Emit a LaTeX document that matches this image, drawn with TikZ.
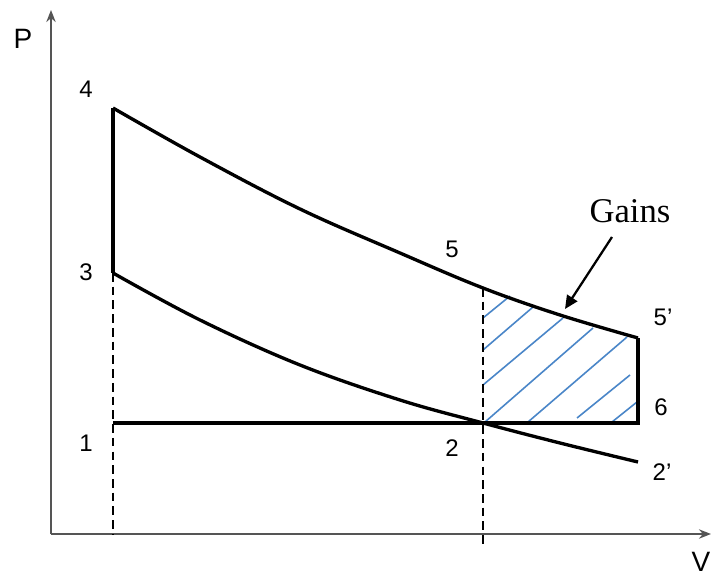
\documentclass[tikz,border=0pt]{standalone}
\usepackage{fontspec}
\setmainfont{Liberation Sans}
\newfontfamily\gainsfont{Liberation Serif}
\usetikzlibrary{arrows.meta}
\definecolor{hatchblue}{RGB}{74,134,200}
\definecolor{axisgray}{RGB}{85,85,85}
\begin{document}
\begin{tikzpicture}[x=0.75pt,y=-0.75pt,
  curve/.style={line width=2.5pt,black,line join=miter},
  axisline/.style={line width=1.5pt,axisgray,-{Stealth[length=9pt,width=7pt]}},
  guide/.style={line width=2pt,black,dash pattern=on 6.5pt off 3.8pt},
  hatchline/.style={line width=1.2pt,hatchblue},
  lbl/.style={font=\fontsize{18}{21}\selectfont,inner sep=0pt},
  pointer/.style={line width=1.7pt,black,-{Triangle[length=10pt,width=9pt]}}]
\useasboundingbox (0,0) rectangle (712,573);
% key points
\coordinate (O) at (51,534);
\coordinate (ytip) at (51,10);
\coordinate (xtip) at (711,534);
\coordinate (p4) at (113,108);
\coordinate (p3) at (113,273);
\coordinate (p1) at (113,423);
\coordinate (p1b) at (113,534);
\coordinate (p5) at (483,288);
\coordinate (p2) at (483,423);
\coordinate (p2b) at (483,546);
\coordinate (p5p) at (638,338);
\coordinate (p6) at (638,423);
\coordinate (p2p) at (638,462);
% axes
\draw[axisline] (O) -- (ytip);
\draw[axisline] (O) -- (xtip);
% hatch
\draw[hatchline] (483,318) -- (510,296);
\draw[hatchline] (483,350) -- (533,307);
\draw[hatchline] (483,385) -- (563,318);
\draw[hatchline] (485,422) -- (593,328);
\draw[hatchline] (528,422) -- (627,337);
\draw[hatchline] (577,418) -- (630,375);
\draw[hatchline] (612,422) -- (637,402);
% guides
\draw[guide] (p3) -- (p1b);
\draw[guide] (p5) -- (p2b);
% cycle
\draw[curve] (p3) -- (p4);
\draw[curve] plot[smooth,tension=0.6] coordinates {(113,108) (200,157) (300,209) (400,253) (483,288) (560,315) (638,338)};
\draw[curve] plot[smooth,tension=0.6] coordinates {(113,273) (200,320) (300,365) (400,400) (483,423) (560,443) (638,462)};
\draw[curve] (p1) -- (p6) -- (p5p);
% labels
\node[lbl,font=\fontsize{21}{24}\selectfont] (lP) at (23,39) {P};
\node[lbl,font=\fontsize{21}{24}\selectfont] (lV) at (701,562) {V};
\node[lbl] (l4) at (86,89) {4};
\node[lbl] (l3) at (86,272) {3};
\node[lbl] (l1) at (86,443) {1};
\node[lbl] (l5) at (452,249) {5};
\node[lbl] (l2) at (452,448) {2};
\node[lbl] (l5p) at (663,317) {5’};
\node[lbl] (l6) at (661,407) {6};
\node[lbl] (l2p) at (662,472) {2’};
\node[inner sep=0pt,anchor=base,font=\gainsfont\fontsize{26}{30}\selectfont] (gains) at (630,223) {Gains};
\coordinate (gtip) at (565,309);
\draw[pointer] (612,237) -- (gtip);
\end{tikzpicture}
\end{document}
